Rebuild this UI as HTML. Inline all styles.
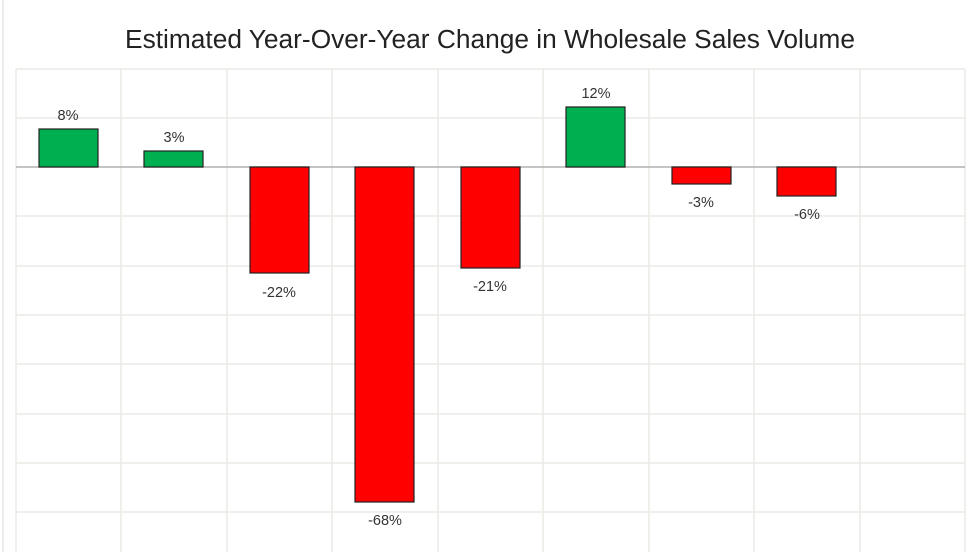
<!DOCTYPE html>
<html><head><style>
body{margin:0;background:#fff}
svg{display:block;font-family:"Liberation Sans",sans-serif}
</style></head><body>
<svg width="980" height="552" viewBox="0 0 980 552">
<rect x="0" y="0" width="980" height="552" fill="#fff"/>
<line x1="3" y1="0" x2="3" y2="552" stroke="#d8d8d8" stroke-width="1"/>
<text x="490" y="48" text-anchor="middle" font-size="26.3" fill="#222">Estimated Year-Over-Year Change in Wholesale Sales Volume</text>
<g stroke="#eaebe5" stroke-width="1.5">
<line x1="16" y1="69" x2="965" y2="69"/><line x1="16" y1="118" x2="965" y2="118"/>
<line x1="16" y1="216" x2="965" y2="216"/><line x1="16" y1="266" x2="965" y2="266"/>
<line x1="16" y1="315" x2="965" y2="315"/><line x1="16" y1="364" x2="965" y2="364"/>
<line x1="16" y1="414" x2="965" y2="414"/><line x1="16" y1="463" x2="965" y2="463"/>
<line x1="16" y1="512" x2="965" y2="512"/>
<line x1="16" y1="69" x2="16" y2="552"/><line x1="121" y1="69" x2="121" y2="552"/>
<line x1="227" y1="69" x2="227" y2="552"/><line x1="332" y1="69" x2="332" y2="552"/>
<line x1="438" y1="69" x2="438" y2="552"/><line x1="543" y1="69" x2="543" y2="552"/>
<line x1="649" y1="69" x2="649" y2="552"/><line x1="754" y1="69" x2="754" y2="552"/>
<line x1="860" y1="69" x2="860" y2="552"/><line x1="965" y1="69" x2="965" y2="552"/>
</g>
<line x1="16" y1="167" x2="965" y2="167" stroke="#b0b0b0" stroke-width="1.5"/>
<g stroke="#222" stroke-width="1.2">
<rect x="39" y="129" width="59" height="38" fill="#00b050"/>
<rect x="144" y="151" width="59" height="16" fill="#00b050"/>
<rect x="250" y="167" width="59" height="106" fill="#ff0000"/>
<rect x="355" y="167" width="59" height="335" fill="#ff0000"/>
<rect x="461" y="167" width="59" height="101" fill="#ff0000"/>
<rect x="566" y="107" width="59" height="60" fill="#00b050"/>
<rect x="672" y="167" width="59" height="17" fill="#ff0000"/>
<rect x="777" y="167" width="59" height="29" fill="#ff0000"/>
</g>
<g font-size="14.5" fill="#333" text-anchor="middle">
<text x="68" y="120">8%</text>
<text x="174" y="142">3%</text>
<text x="279" y="297">-22%</text>
<text x="385" y="525">-68%</text>
<text x="490" y="291">-21%</text>
<text x="596" y="98">12%</text>
<text x="701" y="207">-3%</text>
<text x="807" y="219">-6%</text>
</g>
</svg>
</body></html>
